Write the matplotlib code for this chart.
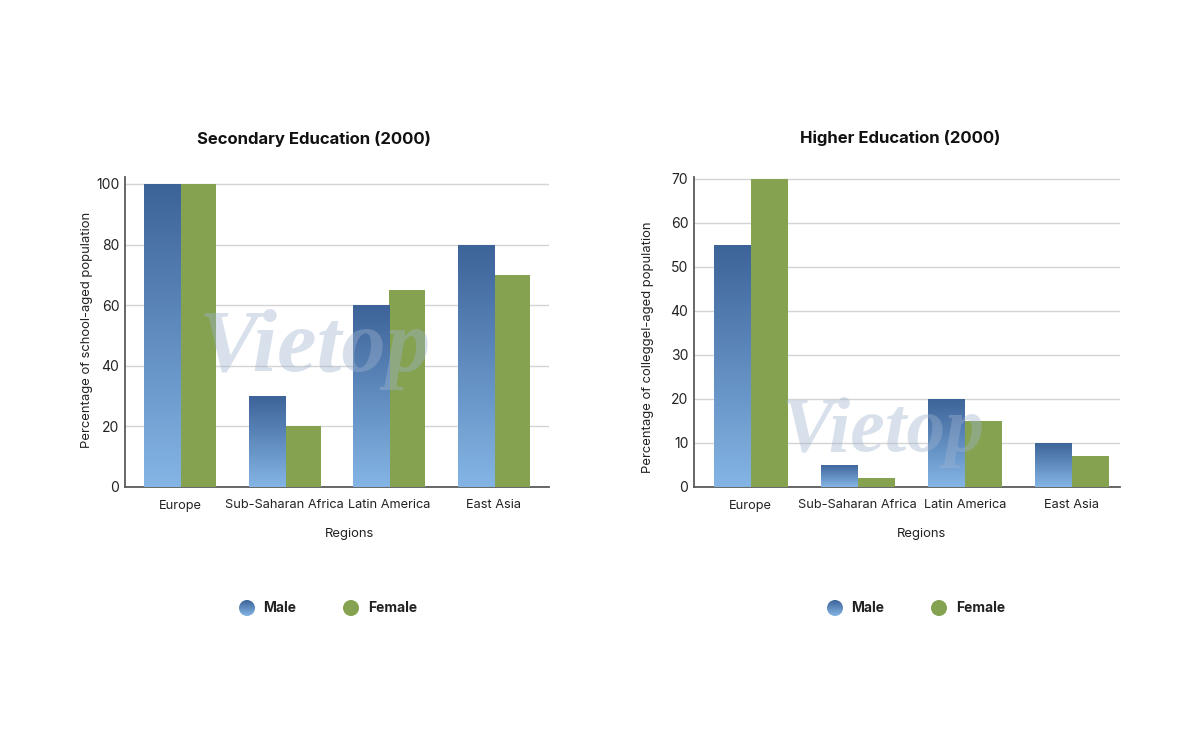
import numpy as np
import matplotlib
matplotlib.use("Agg")
import matplotlib.pyplot as plt
from matplotlib.patches import Circle
from matplotlib.colors import LinearSegmentedColormap

plt.rcParams['font.family'] = ['Inter', 'DejaVu Sans']

regions = ["Europe", "Sub-Saharan Africa", "Latin America", "East Asia"]
series_names = ["Male", "Female"]
secondary_male = [100, 30, 60, 80]
secondary_female = [100, 20, 65, 70]
higher_male = [55, 5, 20, 10]
higher_female = [70, 2, 15, 7]
secondary_ticks = [0, 20, 40, 60, 80, 100]
higher_ticks = [0, 10, 20, 30, 40, 50, 60, 70]

male_top = "#3d6398"
male_bottom = "#84b5e5"
female_color = "#84a24f"
grad_cmap = LinearSegmentedColormap.from_list("m", [male_bottom, male_top])

W, H = 1200, 747
fig = plt.figure(figsize=(12, 7.47), dpi=100)
fig.patch.set_facecolor("white")

def draw_panel(rect, male, female, ticks, ytop, xlim, title, title_xy, ylabel, ylab_xy, xlab_x):
    ax = fig.add_axes(rect)
    x = np.arange(len(regions))
    w = 0.345
    mbars = ax.bar(x - w / 2, male, width=w, color="none", edgecolor="none", zorder=3)
    ax.bar(x + w / 2, female, width=w, color=female_color, edgecolor="none", zorder=3)
    grad = np.linspace(0, 1, 256).reshape(-1, 1)
    for b in mbars:
        x0, y0 = b.get_x(), b.get_y()
        im = ax.imshow(grad, cmap=grad_cmap, origin="lower", aspect="auto",
                       extent=[x0, x0 + b.get_width(), y0, y0 + b.get_height()], zorder=3)
        im.set_clip_path(b)
    ax.set_xlim(*xlim)
    ax.set_ylim(0, ytop)
    ax.set_yticks(ticks)
    ax.set_xticks(x)
    ax.set_xticklabels(regions, fontsize=9.2)
    ax.tick_params(axis="both", length=0, colors="#222222")
    ax.tick_params(axis="y", labelsize=10, pad=4)
    ax.tick_params(axis="x", pad=9)
    ax.grid(axis="y", color="#d4d4d4", linewidth=1, zorder=0)
    for s in ["top", "right"]:
        ax.spines[s].set_visible(False)
    for s in ["left", "bottom"]:
        ax.spines[s].set_color("#5a5a5a")
        ax.spines[s].set_linewidth(1.3)
    ax.set_xlabel("Regions", fontsize=9.4, color="#222222")
    ax.xaxis.set_label_coords(xlab_x, -0.152)
    ax.xaxis.label.set_va("center")
    ax.set_ylabel(ylabel, fontsize=9.4, color="#222222")
    ax.yaxis.set_label_coords(*ylab_xy)
    ax.yaxis.label.set_va("center")
    fig.text(title_xy[0] / W, 1 - title_xy[1] / H, title, ha="center", va="center",
             fontsize=12, fontweight="bold", color="#111111")
    return ax

ax1 = draw_panel([125 / W, 1 - 487 / H, 424 / W, 310 / H], secondary_male, secondary_female,
                 secondary_ticks, 102.3, (-0.527, 3.53), "Secondary Education (2000)", (314, 139),
                 "Percentage of school-aged population", (-0.0896, 0.506), 0.53)
ax2 = draw_panel([694 / W, 1 - 487 / H, 426 / W, 310 / H], higher_male, higher_female,
                 higher_ticks, 70.45, (-0.53, 3.45), "Higher Education (2000)", (900, 138),
                 "Percentage of colleggel-aged population", (-0.108, 0.45), 0.535)

# overlay in pixel coordinates for legends and watermark
ov = fig.add_axes([0, 0, 1, 1], zorder=10)
ov.set_xlim(0, W)
ov.set_ylim(H, 0)
ov.axis("off")
ov.patch.set_alpha(0)

grad = np.linspace(0, 1, 64).reshape(-1, 1)
leg_cmap = LinearSegmentedColormap.from_list("l", [male_top, male_bottom])
for cx in (247, 835):
    c = Circle((cx, 608), 8, transform=ov.transData, facecolor="none", edgecolor="none")
    ov.add_patch(c)
    im = ov.imshow(grad, cmap=leg_cmap, origin="upper", aspect="auto",
                   extent=[cx - 8, cx + 8, 616, 600])
    im.set_clip_path(c)
    ov.text(cx + 16, 608, series_names[0], ha="left", va="center", fontsize=10,
            fontweight="bold", color="#222222")
    ov.add_patch(Circle((cx + 104, 608), 8, facecolor=female_color, edgecolor="none"))
    ov.text(cx + 121, 608, series_names[1], ha="left", va="center", fontsize=10,
            fontweight="bold", color="#222222")

for (wx, wy, fs) in [(315, 350, 64), (883, 432, 56)]:
    ov.text(wx, wy, "Vietop", ha="center", va="center", fontsize=fs, fontstyle="italic",
            fontweight="bold", family="Liberation Serif", color="#9fb3cf", alpha=0.4)

ov.set_xlim(0, W)
ov.set_ylim(H, 0)

fig.savefig("out.png", dpi=100, facecolor="white")
